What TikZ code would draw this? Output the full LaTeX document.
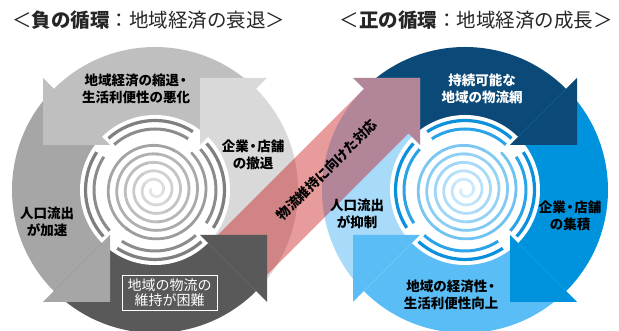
\documentclass[tikz,border=0pt]{standalone}
\usepackage{fontspec}
\setmainfont{Noto Sans CJK JP}
\definecolor{gA}{HTML}{BFBFBF}
\definecolor{gB}{HTML}{D9D9D9}
\definecolor{gC}{HTML}{A6A6A6}
\definecolor{gD}{HTML}{595959}
\definecolor{bA}{HTML}{0B4A78}
\definecolor{bB}{HTML}{0093DD}
\definecolor{bC}{HTML}{5ABDF6}
\definecolor{bD}{HTML}{A8DBFA}
\definecolor{pinkred}{RGB}{195,5,5}
\definecolor{txt}{HTML}{262626}
\definecolor{ringGa}{HTML}{7F7F7F}
\definecolor{ringGb}{HTML}{8C8C8C}
\definecolor{spGo}{HTML}{9C9C9C}
\definecolor{spGi}{HTML}{E4E4E4}
\definecolor{ringBa}{HTML}{0A90DC}
\definecolor{ringBb}{HTML}{2AA3E8}
\definecolor{spBo}{HTML}{6FC2F2}
\definecolor{spBi}{HTML}{D5EDFC}
\newcommand\Rad{143}
\newcommand\qsect[3]{\fill[#3] (0,0) -- (#1:\Rad) arc[start angle=#1, end angle=#2, radius=\Rad] -- cycle;}
\newcommand\myspiral[2]{%
  \foreach \k in {0,...,11}{
    \pgfmathsetmacro\pa{170+\k*169.4}
    \pgfmathsetmacro\pb{\pa+172}
    \pgfmathtruncatemacro\pct{100*\k/11}
    \draw[line width=2.8pt, line cap=round, color=#1!\pct!#2] plot[domain=\pa:\pb, samples=25, smooth, variable=\t] ({0.02361*\t*cos(\t)}, {0.02361*\t*sin(\t)});
  }}
\newcommand\ndot{\kern-2.5pt・\kern-2.5pt}
\tikzset{
  lbl/.style={font=\bfseries\fontsize{13.5}{17}\selectfont, align=center, text=black, inner sep=0pt},
  wlbl/.style={lbl, text=white},
  ttl/.style={font=\fontsize{19.5}{22}\selectfont, text=txt, inner sep=0pt},
  pinkband/.style={fill=pinkred, fill opacity=0.4}
}
\begin{document}
\begin{tikzpicture}[x=1pt,y=1pt]
\useasboundingbox (0,0) rectangle (619,331);
% ---------- left circle: sectors except bottom
\begin{scope}[shift={(155,141)}]
  \qsect{45}{135}{gA}
  \qsect{135}{225}{gC}
  \qsect{-45}{45}{gB}
\end{scope}
% ---------- right circle
\begin{scope}[shift={(465,141)}]
  \qsect{45}{135}{bA}
  \qsect{-45}{45}{bB}
  \qsect{225}{315}{bC}
  \qsect{135}{225}{bD}
  \fill[white] (0,0) circle[radius=75];
  \fill[bA] (112,112) -- (112,45) -- (45,45) -- cycle;
  \fill[bB] (112,-112) -- (45,-112) -- (45,-45) -- cycle;
  \fill[bC] (-112,-112) -- (-112,-45) -- (-45,-45) -- cycle;
  \fill[bD] (-112,112) -- (-45,112) -- (-45,45) -- cycle;
\end{scope}
% ---------- pink arrow
\fill[pinkband] (195.5,73.5) -- (364,242) -- (353,253) -- (420,253) -- (420,186) -- (408.5,197.5) -- (240,29) -- cycle;
% ---------- left circle bottom + white + triangles
\begin{scope}[shift={(155,141)}]
  \qsect{225}{315}{gD}
  \fill[white] (0,0) circle[radius=75];
  \fill[gA] (-112,112) -- (-112,45) -- (-45,45) -- cycle;
  \fill[gB] (112,112) -- (45,112) -- (45,45) -- cycle;
  \fill[gC] (-112,-112) -- (-45,-112) -- (-45,-45) -- cycle;
  \fill[gD] (112,-112) -- (112,-45) -- (45,-45) -- cycle;
  \foreach \d in {45,135,225,315}{
    \draw[line width=3.2pt, ringGa] ({\d+12}:69.5) arc[start angle={\d+12}, end angle={\d+87}, radius=69.5];
    \draw[line width=3pt, ringGb] ({\d+12}:61) arc[start angle={\d+12}, end angle={\d+87}, radius=61];
  }
  \myspiral{spGo}{spGi}
\end{scope}
\begin{scope}[shift={(465,141)}]
  \foreach \d in {45,135,225,315}{
    \draw[line width=3.2pt, ringBa] ({\d+3}:69.5) arc[start angle={\d+3}, end angle={\d+78}, radius=69.5];
    \draw[line width=3pt, ringBb] ({\d+3}:61) arc[start angle={\d+3}, end angle={\d+78}, radius=61];
  }
  \myspiral{spBo}{spBi}
\end{scope}
% ---------- texts
\node[ttl] (t1) at (149,311) {＜\textbf{負の循環}：地域経済の衰退＞};
\node[ttl] (t2) at (476,311) {＜\textbf{正の循環}：地域経済の成長＞};
\node[lbl] (l1) at (136,242) {地域経済の縮退\ndot\\生活利便性の悪化};
\node[lbl] (l2) at (253,176) {企業\ndot 店舗\\の撤退};
\node[lbl] (l3) at (47,109.5) {人口流出\\が加速};
\node[draw=white, line width=0.8pt, text=white, align=center, inner sep=0pt, minimum width=95, minimum height=35, font=\fontsize{14}{15.5}\selectfont] (l4) at (169.5,38.5) {地域の物流の\\維持が困難};
\node[wlbl] (r1) at (482,242.5) {持続可能な\\地域の物流網};
\node[lbl] (r2) at (570,115) {企業\ndot 店舗\\の集積};
\node[lbl] (r3) at (357,117) {人口流出\\が抑制};
\node[lbl] (r4) at (451,36) {地域の経済性\ndot\\生活利便性向上};
\node[lbl, rotate=45] (d1) at (327,161) {物流維持に向けた対応};
\end{tikzpicture}
\end{document}
